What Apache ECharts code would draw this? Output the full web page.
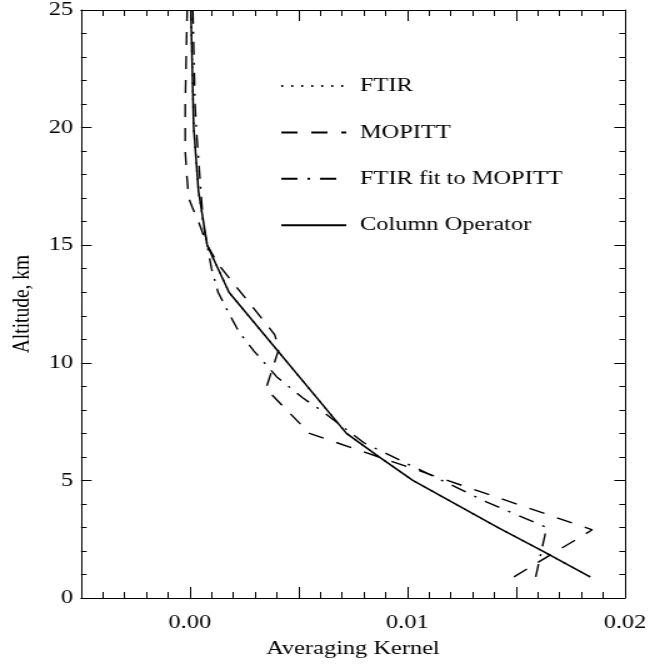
<!DOCTYPE html>
<html><head><meta charset="utf-8">
<script src="https://cdn.jsdelivr.net/npm/echarts@6/dist/echarts.min.js"></script>
<style>
html,body{margin:0;padding:0;background:#fff;overflow:hidden;}
#wrap{width:650px;height:664px;overflow:hidden;position:relative;}
#chart{width:520px;height:664px;transform:scaleX(1.25);transform-origin:0 0;}
</style></head><body><div id="wrap"><div id="chart"></div></div>
<script>
// Series names (legend order)
const seriesNames = ['FTIR', 'MOPITT', 'FTIR fit to MOPITT', 'Column Operator'];

// FTIR (dotted) — altitude (km) and averaging kernel
const ftirAlt = [0.9, 2, 3, 4, 5, 6, 7, 13, 15, 17.3, 20, 25];
const ftirAk  = [0.0184, 0.0162, 0.01415, 0.0122, 0.01025, 0.0087, 0.0072, 0.0018, 0.0008, 0.0004, 0.00018, 0.00005];

// MOPITT (dashed)
const mopAlt = [0.9, 2.9, 7.0, 8.9, 10.6, 11.2, 14.2, 15, 16, 16.6, 17, 18, 19, 21, 25];
const mopAk  = [0.0149, 0.0185, 0.0055, 0.0035, 0.0041, 0.0039, 0.0013, 0.0008, 0.0004, 0.00012, -0.00005, -0.00014, -0.00021, -0.00021, -0.00012];

// FTIR fit to MOPITT (dash-dot)
const fitAlt = [0.9, 3.0, 4.1, 6.6, 7.3, 8.0, 8.5, 9.4, 10.5, 11.3, 12.1, 13.0, 14.0, 15.9, 19.7, 21, 25];
const fitAk  = [0.0159, 0.0164, 0.0136, 0.0080, 0.0070, 0.0060, 0.0052, 0.0040, 0.00295, 0.00227, 0.0018, 0.0013, 0.0010, 0.00062, 0.00032, 0.00024, 0.00014];

// Column Operator (solid)
const colAlt = [0.9, 2, 3, 4, 5, 6, 7, 13, 15, 17.3, 20, 25];
const colAk  = [0.0184, 0.0162, 0.01415, 0.0122, 0.01025, 0.0087, 0.0072, 0.0018, 0.0008, 0.0004, 0.00018, 0.00005];

// Axis ticks
const xTickLabels = ['0.00', '0.01', '0.02'];
const yTickLabels = ['0', '5', '10', '15', '20', '25'];

function pairs(ak, alt) { return ak.map((v, i) => [v, alt[i]]); }

const FONT = 'Liberation Serif';
const FS = 19.5;

const chart = echarts.init(document.getElementById('chart'), null, {renderer: 'canvas'});

const xBase = {
  type: 'value', min: -0.005, max: 0.02, interval: 0.005,
  axisLine: {show: true, onZero: false, lineStyle: {color: '#000', width: 1}},
  axisTick: {show: true, inside: true, length: 11, lineStyle: {color: '#000', width: 1}},
  minorTick: {show: true, splitNumber: 5, length: 6, lineStyle: {color: '#000', width: 1}},
  splitLine: {show: false}, minorSplitLine: {show: false}
};
const yBase = {
  type: 'value', min: 0, max: 25, interval: 5,
  axisLine: {show: true, onZero: false, lineStyle: {color: '#000', width: 1}},
  axisTick: {show: true, inside: true, length: 8.5, lineStyle: {color: '#000', width: 1}},
  minorTick: {show: true, splitNumber: 5, length: 4.5, lineStyle: {color: '#000', width: 1}},
  splitLine: {show: false}, minorSplitLine: {show: false}
};

const option = {
  animation: false,
  backgroundColor: '#fff',
  textStyle: {fontFamily: FONT},
  grid: {left: 62.4, right: 17.6, top: 10, bottom: 66, containLabel: false},
  legend: {
    orient: 'vertical', left: 219, top: 71,
    itemWidth: 52, itemHeight: 14, itemGap: 26.4,
    data: seriesNames,
    itemStyle: {color: 'rgba(0,0,0,0)', borderColor: 'rgba(0,0,0,0)', borderWidth: 0, opacity: 0},
    textStyle: {fontFamily: FONT, fontSize: FS, color: '#000', lineHeight: 20, padding: [0, 0, 0, 6]}
  },
  xAxis: [
    Object.assign({}, xBase, {
      position: 'bottom',
      name: 'Averaging Kernel', nameLocation: 'middle', nameGap: 41,
      nameTextStyle: {fontFamily: FONT, fontSize: FS, color: '#000'},
      axisLabel: {
        show: true, margin: 15, color: '#000', fontFamily: FONT, fontSize: FS,
        showMinLabel: true, showMaxLabel: true,
        formatter: function (v) {
          const k = Math.round(v * 100);
          if (Math.abs(v * 100 - k) > 1e-6) return '';
          return xTickLabels[k] !== undefined ? xTickLabels[k] : '';
        }
      }
    }),
    Object.assign({}, xBase, {position: 'top', axisLabel: {show: false}})
  ],
  yAxis: [
    Object.assign({}, yBase, {
      position: 'left',
      name: 'Altitude, km', nameLocation: 'middle', nameGap: 36, nameRotate: 90,
      nameTextStyle: {fontFamily: FONT, fontSize: FS, color: '#000'},
      axisLabel: {
        show: true, margin: 6.4, color: '#000', fontFamily: FONT, fontSize: FS,
        showMinLabel: true, showMaxLabel: true,
        formatter: function (v) { const i = Math.round(v / 5); return yTickLabels[i] !== undefined ? yTickLabels[i] : ''; }
      }
    }),
    Object.assign({}, yBase, {position: 'right', axisLabel: {show: false}})
  ],
  series: [
    {name: seriesNames[0], type: 'line', data: pairs(ftirAk, ftirAlt), symbol: 'none', showSymbol: false, z: 2,
     lineStyle: {color: '#000', width: 1.4, type: [1.5, 6.5]}, itemStyle: {color: '#000'}},
    {name: seriesNames[1], type: 'line', data: pairs(mopAk, mopAlt), symbol: 'none', showSymbol: false, z: 3,
     lineStyle: {color: '#000', width: 1.4, type: [13, 11]}, itemStyle: {color: '#000'}},
    {name: seriesNames[2], type: 'line', data: pairs(fitAk, fitAlt), symbol: 'none', showSymbol: false, z: 4,
     lineStyle: {color: '#000', width: 1.4, type: [13, 8, 2, 8]}, itemStyle: {color: '#000'}},
    {name: seriesNames[3], type: 'line', data: pairs(colAk, colAlt), symbol: 'none', showSymbol: false, z: 5,
     lineStyle: {color: '#000', width: 1.5, type: 'solid'}, itemStyle: {color: '#000'}}
  ]
};
chart.setOption(option);
</script>
</body></html>
